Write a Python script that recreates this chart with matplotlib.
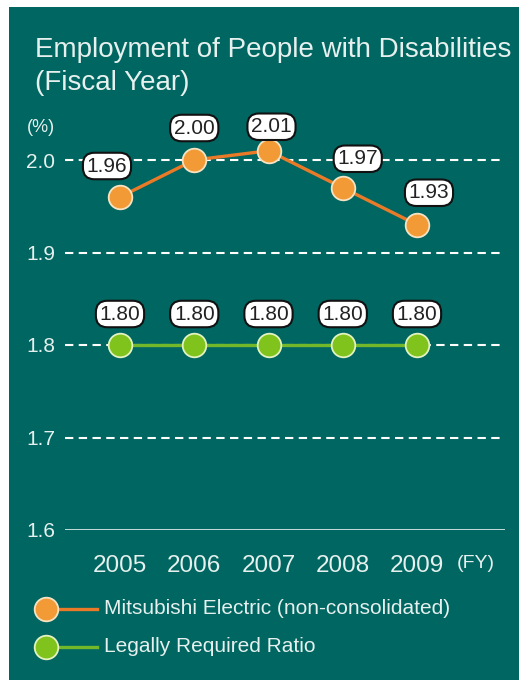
import matplotlib
matplotlib.use('Agg')
import matplotlib.pyplot as plt
from matplotlib.patches import Rectangle
from matplotlib.lines import Line2D

plt.rcParams['font.family'] = ['Liberation Sans', 'DejaVu Sans']

# data
years = [2005, 2006, 2007, 2008, 2009]
mitsubishi = [1.96, 2.00, 2.01, 1.97, 1.93]
legal = [1.80, 1.80, 1.80, 1.80, 1.80]
yticks = [1.6, 1.7, 1.8, 1.9, 2.0]

# label offsets in pixels (dx, dy), moved to keep clear of the line
mit_offsets = [(-13, 31), (0, 32), (3, 24), (15, 29), (12, 32)]
legal_offsets = [(0, 31)] * 5

bg = '#006661'
txt = '#e6f0ee'
orange_line = '#ea7a28'
orange_mark = '#f29a35'
green_line = '#72b82a'
green_mark = '#80c31c'

W, H = 519, 681
fig = plt.figure(figsize=(W / 100, H / 100), dpi=100)
fig.patch.set_facecolor('white')
fig.patches.append(Rectangle((9 / W, 1 / H), (W - 9) / W, (H - 8) / H,
                             transform=fig.transFigure, fc=bg, ec='none', zorder=-1))

# axes: x pixels 65..505, y pixels 100..530
ax = fig.add_axes([65 / W, (H - 530) / H, 440 / W, 430 / H])
ax.set_zorder(1)
ax.set_facecolor('none')
px_year = 74.25
ax.set_xlim(2005 - 55 / px_year, 2005 + 385 / px_year)
ax.set_ylim(1.6, 1.6 + 430 / 925)
for s in ax.spines.values():
    s.set_visible(False)

for t in yticks[1:]:
    ax.axhline(t, color='white', lw=1.5, ls=(0, (4, 2.6)), zorder=1)
ax.axhline(1.6, color='white', lw=1.8, zorder=1)

ax.set_yticks(yticks)
ax.set_yticklabels([f'{t:.1f}' for t in yticks])
ax.set_xticks(years)
ax.set_xticklabels([str(y) for y in years])
ax.tick_params(axis='y', length=0, pad=7, labelsize=15, labelcolor=txt)
ax.tick_params(axis='x', length=0, pad=18, labelsize=17.5, labelcolor=txt)

ax.plot(years, mitsubishi, color=orange_line, lw=2.4, marker='o', ms=17,
        mfc=orange_mark, mec='#f6e3c4', mew=1.3, zorder=3)
ax.plot(years, legal, color=green_line, lw=2.4, marker='o', ms=17,
        mfc=green_mark, mec='#e2f2c0', mew=1.3, zorder=3)

box = dict(boxstyle='round,pad=0.18,rounding_size=0.55', fc='white', ec='#111111', lw=1.5)
for x, v, (dx, dy) in zip(years, mitsubishi, mit_offsets):
    ax.annotate(f'{v:.2f}', (x, v), xytext=(dx, dy), textcoords='offset pixels',
                ha='center', va='center', fontsize=15, color='#222222', bbox=box, zorder=4)
for x, v, (dx, dy) in zip(years, legal, legal_offsets):
    ax.annotate(f'{v:.2f}', (x, v), xytext=(dx, dy), textcoords='offset pixels',
                ha='center', va='center', fontsize=15, color='#222222', bbox=box, zorder=4)

fig.text(35 / W, 1 - 50 / H, 'Employment of People with Disabilities', fontsize=20,
         color=txt, ha='left', va='center')
fig.text(35 / W, 1 - 83 / H, '(Fiscal Year)', fontsize=20, color=txt, ha='left', va='center')
fig.text(27 / W, 1 - 128 / H, '(%)', fontsize=13, color=txt, ha='left', va='center')
fig.text(457 / W, 1 - 564 / H, '(FY)', fontsize=14, color=txt, ha='left', va='center')

# legend
for yy, lc, mc, ec, label in [(609, orange_line, orange_mark, '#f6e3c4',
                                'Mitsubishi Electric (non-consolidated)'),
                               (647, green_line, green_mark, '#e2f2c0',
                                'Legally Required Ratio')]:
    fig.add_artist(Line2D([46 / W, 97 / W], [1 - yy / H, 1 - yy / H], color=lc, lw=2.4,
                          transform=fig.transFigure, zorder=2))
    fig.add_artist(Line2D([46 / W], [1 - yy / H], marker='o', ms=17, mfc=mc, mec=ec,
                          mew=1.3, transform=fig.transFigure, zorder=3))
    fig.text(104 / W, 1 - yy / H, label, fontsize=15, color=txt, ha='left', va='center')

fig.savefig('out.png', dpi=100, facecolor=fig.get_facecolor())
